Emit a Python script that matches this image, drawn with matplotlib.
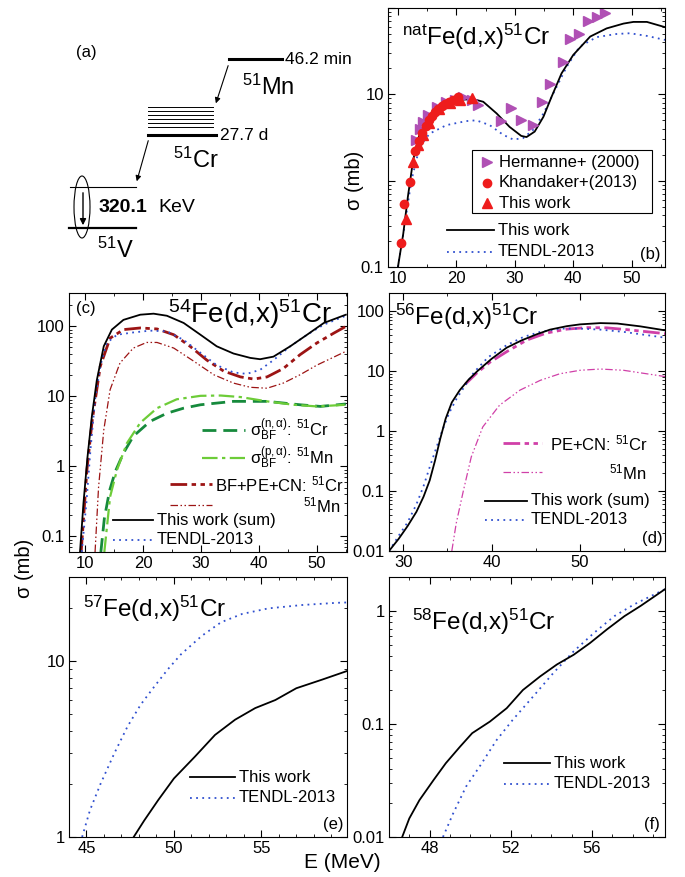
import matplotlib
matplotlib.use("Agg")
import matplotlib.pyplot as plt
import matplotlib as mpl
from matplotlib.lines import Line2D
from matplotlib.patches import Ellipse, Rectangle, FancyArrowPatch
from matplotlib.ticker import FixedLocator, LogLocator, MultipleLocator, FuncFormatter, NullFormatter

mpl.rcParams.update({
    "font.family": ["Liberation Sans", "DejaVu Sans"],
    "mathtext.fontset": "custom",
    "mathtext.rm": "Liberation Sans",
    "mathtext.it": "Liberation Sans:italic",
    "mathtext.bf": "Liberation Sans:bold",
    "font.size": 12,
    "xtick.direction": "in", "ytick.direction": "in",
    "xtick.top": True, "ytick.right": True,
    "axes.linewidth": 0.8,
})

# ---------------- data ----------------
# (b) natFe(d,x)51Cr
E_b_calc = [10.0, 10.9, 11.7, 12.6, 13.7, 15.4, 17.1, 20.0, 22.9, 24.6, 26.9, 29.1, 31.1, 32.0,
            33.4, 34.9, 36.3, 38.0, 40.0, 42.9, 45.7, 48.6, 50.3, 52.6, 55.7]
S_b_calc = [0.10, 0.24, 0.65, 1.73, 3.5, 5.75, 7.2, 8.6, 8.8, 8.2, 6.0, 4.2, 3.3, 3.2,
            3.7, 5.5, 9.4, 17.5, 28.6, 46.7, 58, 66, 69, 69, 60]
E_b_tendl = [10.0, 11.1, 12.3, 13.7, 15.4, 18.3, 21.7, 23.4, 25.7, 28.0, 29.7, 31.4, 33.1,
             34.9, 36.6, 38.9, 41.1, 44.0, 47.4, 49.7, 52.6, 55.7]
S_b_tendl = [0.10, 0.29, 1.0, 2.45, 3.5, 4.4, 4.9, 5.0, 4.4, 3.4, 3.0, 3.1, 3.85,
             6.0, 10.3, 21, 35.7, 46, 50, 51, 47.5, 42.7]
E_herm = [13.1, 13.7, 14.3, 15.1, 16.6, 18.3, 19.7, 21.1, 22.6, 23.7, 27.7, 29.4, 31.1, 33.1,
          34.7, 36.0, 38.2, 39.5, 41.0, 42.6, 44.0, 45.4]
S_herm = [2.95, 4.0, 4.8, 5.75, 7.2, 8.2, 8.6, 9.4, 8.6, 7.5, 4.9, 6.9, 5.1, 4.4,
          8.2, 13.1, 24, 43.5, 50, 70, 79.5, 87]
E_khan = [10.5, 11.1, 12.0, 13.0, 13.6, 14.2, 14.8, 15.3, 15.8, 16.3, 16.9, 17.5, 18.1, 18.8, 19.5, 20.2]
S_khan = [0.19, 0.54, 0.97, 2.2, 2.9, 3.6, 4.3, 5.0, 5.6, 6.2, 6.8, 7.3, 7.8, 8.2, 8.7, 9.2]
E_meas = [11.4, 12.6, 13.4, 14.3, 15.4, 17.1, 18.9, 20.6, 22.6]
S_meas = [0.36, 1.66, 2.6, 3.4, 4.7, 6.8, 8.0, 8.6, 9.1]

# (c) 54Fe(d,x)51Cr
E_c_sum = [9.1, 9.7, 10.4, 11.15, 12.0, 13.2, 14.6, 16.6, 19.5, 21.8, 24.1, 27.0, 29.9, 32.7,
           35.6, 38.5, 40.2, 42.5, 45.4, 48.3, 51.2, 55.0]
S_c_sum = [0.06, 0.3, 1.38, 5.2, 17, 52, 90, 124, 147, 152, 142, 112, 76, 52,
           41, 35.5, 34, 37, 52, 76, 112, 147]
E_c_tendl = [9.4, 10.2, 10.9, 11.7, 12.6, 13.7, 15.5, 18.3, 21.2, 24.1, 27.0, 29.9, 32.7, 35.6,
             37.9, 40.2, 42.5, 45.4, 48.3, 51.2, 55.0]
S_c_tendl = [0.06, 0.3, 1.7, 9, 27, 58, 76, 82, 87, 85, 64, 42, 28, 22,
             21, 24, 33, 52, 76, 106, 142]
E_c_bf = [9.3, 10.3, 11.2, 12.6, 14.3, 16.6, 19.5, 22.4, 25.3, 28.1, 31.0, 33.9, 36.8, 39.1,
          41.4, 44.2, 47.1, 50.0, 52.9, 55.0]
S_c_bf = [0.06, 0.9, 4.5, 27, 68, 90, 95, 92, 76, 52, 33, 23, 19, 17.7,
          19, 25, 39.5, 58, 80, 100]
E_c_mn = [11.7, 12.3, 13.2, 14.3, 16.0, 18.3, 20.6, 22.4, 25.3, 28.7, 32.2, 35.6, 38.5, 41.4,
          44.2, 47.1, 50.0, 55.0]
S_c_mn = [0.06, 0.5, 3.3, 12.5, 30, 49, 59, 59, 49, 32, 20.4, 15.5, 13.5, 13.1,
          15.5, 20.4, 28, 44]
E_c_na = [12.7, 13.3, 14.2, 15.2, 16.6, 18.3, 21.2, 24.1, 27.0, 29.9, 35.6, 41.4, 47.1, 50.6, 55.0]
S_c_na = [0.06, 0.18, 0.45, 0.85, 1.55, 2.7, 4.4, 5.75, 6.8, 7.6, 8.5, 8.5, 7.6, 7.2, 7.8]
E_c_pa = [13.3, 14.3, 15.5, 17.2, 19.5, 22.4, 25.8, 29.9, 33.4, 36.8, 41.4, 46.0, 50.0, 55.0]
S_c_pa = [0.06, 0.37, 0.9, 2.15, 4.2, 6.8, 9.1, 10.2, 10.3, 9.8, 8.5, 7.6, 7.2, 7.6]

# (d) 56Fe(d,x)51Cr
E_d_sum = [28.4, 29.5, 30.5, 31.5, 32.3, 33.0, 33.6, 34.2, 34.8, 35.5, 36.4, 37.4, 38.4, 40.0,
           41.7, 43.4, 45.1, 46.6, 48.5, 50.0, 52.3, 54.2, 56.8, 59.6]
S_d_sum = [0.01, 0.016, 0.026, 0.045, 0.08, 0.15, 0.32, 0.75, 1.6, 3.0, 4.8, 7.2, 10, 16,
           24.5, 32.5, 41, 49, 56, 60, 63, 62, 55.6, 47.7]
E_d_tendl = [28.4, 29.5, 30.5, 31.5, 32.3, 33.0, 33.7, 34.4, 35.2, 36.1, 37.1, 38.0, 39.6, 41.7,
             43.6, 45.5, 47.7, 50.0, 52.3, 54.9, 59.6]
S_d_tendl = [0.01, 0.018, 0.03, 0.06, 0.12, 0.25, 0.5, 1.0, 2.0, 3.6, 6.0, 9.5, 17, 27,
             37, 45, 51, 51, 49, 45, 36]
E_d_pe = [37.0, 38.4, 39.8, 41.7, 44.0, 46.2, 48.5, 50.75, 53.0, 55.3, 59.6]
S_d_pe = [6.0, 9.5, 14, 21, 33, 43, 50, 53, 52.5, 49, 42]
E_d_mn = [35.5, 36.0, 36.8, 37.7, 39.0, 40.9, 43.2, 45.5, 47.7, 50.0, 52.3, 54.9, 59.6]
S_d_mn = [0.01, 0.029, 0.10, 0.37, 1.17, 2.7, 4.8, 7.0, 9.0, 10.3, 10.8, 10.3, 8.1]

# (e) 57Fe(d,x)51Cr
E_e_sum = [47.7, 48.3, 49.1, 50.0, 51.2, 52.35, 53.5, 54.65, 55.8, 57.0, 58.5, 59.9]
S_e_sum = [1.0, 1.24, 1.62, 2.15, 2.86, 3.8, 4.64, 5.4, 6.0, 7.0, 7.85, 8.77]
E_e_tendl = [44.75, 45.2, 45.8, 46.6, 47.35, 48.1, 48.9, 49.65, 50.4, 51.6, 52.7, 53.9, 55.4,
             57.35, 59.3, 59.9]
S_e_tendl = [1.0, 1.42, 2.0, 3.0, 4.25, 5.65, 7.2, 8.96, 10.9, 13.9, 16.6, 18.5, 19.9,
             20.8, 21.4, 21.5]

# (f) 58Fe(d,x)51Cr
E_f_sum = [46.65, 47.0, 47.5, 48.2, 48.8, 49.5, 50.1, 50.97, 51.8, 52.6, 53.45, 54.27, 55.1,
           55.9, 56.75, 57.6, 58.4, 59.6]
S_f_sum = [0.01, 0.0146, 0.0212, 0.032, 0.045, 0.063, 0.083, 0.105, 0.138, 0.2, 0.264, 0.336,
           0.41, 0.52, 0.69, 0.90, 1.11, 1.56]
E_f_tendl = [48.66, 49.15, 49.8, 50.5, 51.3, 52.1, 53.1, 54.1, 55.1, 56.1, 57.1, 58.1, 59.6]
S_f_tendl = [0.01, 0.016, 0.028, 0.043, 0.072, 0.109, 0.175, 0.283, 0.44, 0.64, 0.90, 1.15, 1.56]

# ---------------- styles ----------------
BLUE = "#2f4fcf"
DRED = "#9c1414"
DGREEN = "#168a3c"
LGREEN = "#6dcc38"
MAG = "#d040a8"
HERM = "#b050b4"
RED = "#ee1c1c"
SOLID = dict(color="black", lw=1.3, ls="-")
TEND = dict(color=BLUE, lw=1.3, ls=(0, (1, 2.4)))
DDOT_THICK = (0, (6, 1.6, 1.6, 1.6, 1.6, 1.6))
DDOT_THIN = (0, (6, 2, 1.2, 2, 1.2, 2))

W, H = 685, 877
fig = plt.figure(figsize=(W / 100, H / 100), dpi=100)


def fx(x):
    return x / W


def fy(y):
    return 1 - y / H


def box(l, t, r, b):
    return [fx(l), fy(b), (r - l) / W, (b - t) / H]


def ftext(x, y, s, **kw):
    fig.text(fx(x), fy(y), s, **kw)


def fline(x0, x1, y0, y1=None, **kw):
    y1 = y0 if y1 is None else y1
    fig.add_artist(Line2D([fx(x0), fx(x1)], [fy(y0), fy(y1)], transform=fig.transFigure, **kw))


def key(x0, x1, y, label, tx=None, size=12, **style):
    fline(x0, x1, y, **style)
    if label:
        ftext(x1 + 4 if tx is None else tx, y, label, ha="left", va="center", fontsize=size)


def logfmt(hide=()):
    return FuncFormatter(lambda v, p: "" if any(abs(v - h) < 1e-9 * max(h, 1e-9) for h in hide)
                         else f"{v:g}")


def setup(ax, xlim, ylim, xmaj, xmin, ymaj, hide=()):
    ax.set_xlim(*xlim)
    ax.set_ylim(*ylim)
    ax.set_yscale("log")
    ax.xaxis.set_major_locator(MultipleLocator(xmaj))
    ax.xaxis.set_minor_locator(MultipleLocator(xmin))
    ax.yaxis.set_major_locator(FixedLocator(ymaj))
    ax.yaxis.set_minor_locator(LogLocator(subs=range(2, 10)))
    ax.yaxis.set_major_formatter(logfmt(hide))
    ax.yaxis.set_minor_formatter(NullFormatter())
    ax.tick_params(which="major", length=5, width=0.8, labelsize=12, pad=3)
    ax.tick_params(which="minor", length=2.5, width=0.6)


# ---------------- (a) decay scheme ----------------
ftext(86, 52, "(a)", ha="center", va="center", fontsize=12)
fline(229, 282, 59, color="black", lw=2.2)
ftext(285, 59, "46.2 min", ha="left", va="center", fontsize=12.5)
ftext(242, 87, r"$^{51}$Mn", ha="left", va="center", fontsize=17)
fig.add_artist(FancyArrowPatch((fx(229), fy(63)), (fx(215), fy(106)), transform=fig.transFigure,
                               arrowstyle="-|>", mutation_scale=8, lw=0.8, color="black"))
for yy in [107, 111, 115, 119, 123, 127]:
    fline(148, 213, yy, color="black", lw=0.7)
fline(148, 216, 135, color="black", lw=2.2)
ftext(220, 135, "27.7 d", ha="left", va="center", fontsize=12.5)
ftext(173, 160, r"$^{51}$Cr", ha="left", va="center", fontsize=17)
fig.add_artist(FancyArrowPatch((fx(149), fy(138)), (fx(136), fy(184)), transform=fig.transFigure,
                               arrowstyle="-|>", mutation_scale=8, lw=0.8, color="black"))
fline(70, 136, 187, color="black", lw=0.8)
fline(69, 136, 228, color="black", lw=1.6)
fig.add_artist(Ellipse((fx(82), fy(207)), 16 / W, 62 / H, transform=fig.transFigure,
                       fill=False, lw=0.8, color="black"))
fig.add_artist(FancyArrowPatch((fx(83), fy(190)), (fx(83), fy(228)), transform=fig.transFigure,
                               arrowstyle="-|>", mutation_scale=9, lw=1.0, color="black"))
ftext(99, 208, "320.1", ha="left", va="center", fontsize=14, fontweight="bold")
ftext(158, 208, "KeV", ha="left", va="center", fontsize=14)
ftext(97, 250, r"$^{51}$V", ha="left", va="center", fontsize=17)

# ---------------- (b) ----------------
axb = fig.add_axes(box(388, 8, 665, 267))
setup(axb, (8.3, 55.7), (0.1, 100), 10, 5, [0.1, 1, 10, 100], hide=(1, 100))
axb.plot(E_b_tendl, S_b_tendl, **TEND)
axb.plot(E_b_calc, S_b_calc, **SOLID)
axb.plot(E_herm, S_herm, ">", color=HERM, ms=7, ls="none")
axb.plot(E_khan, S_khan, "o", color=RED, ms=6, ls="none")
axb.plot(E_meas, S_meas, "^", color=RED, ms=7, ls="none")
ftext(402, 45, r"$^{\mathrm{nat}}$Fe(d,x)$^{51}$Cr", ha="left", va="baseline", fontsize=17.5)
fig.add_artist(Rectangle((fx(472), fy(213)), 180 / W, 63 / H, transform=fig.transFigure,
                         fill=False, lw=0.8, color="black"))
for yy, mk, col, lab in [(162, ">", HERM, "Hermanne+ (2000)"), (183, "o", RED, "Khandaker+(2013)"),
                         (203, "^", RED, "This work")]:
    fig.add_artist(Line2D([fx(487)], [fy(yy)], marker=mk, color=col, ms=7 if mk != "o" else 6,
                          ls="none", transform=fig.transFigure))
    ftext(499, yy, lab, ha="left", va="center", fontsize=12)
key(447, 494, 230, "This work", **SOLID)
key(447, 494, 252, "TENDL-2013", **TEND)
ftext(650, 255, "(b)", ha="center", va="center", fontsize=12)
ftext(355, 180, "σ (mb)", ha="center", va="center", rotation=90, fontsize=14.5)

# ---------------- (c) ----------------
axc = fig.add_axes(box(69, 293, 347, 552))
setup(axc, (7.2, 55.2), (0.06, 300), 10, 5, [0.1, 1, 10, 100])
axc.plot(E_c_na, S_c_na, color=DGREEN, lw=2.0, ls=(0, (5, 2.5)))
axc.plot(E_c_pa, S_c_pa, color=LGREEN, lw=1.6, ls=(0, (7, 2, 1.5, 2)))
axc.plot(E_c_mn, S_c_mn, color=DRED, lw=0.9, ls=DDOT_THIN)
axc.plot(E_c_bf, S_c_bf, color=DRED, lw=2.0, ls=DDOT_THICK)
axc.plot(E_c_tendl, S_c_tendl, **TEND)
axc.plot(E_c_sum, S_c_sum, **SOLID)
ftext(168, 323, r"$^{54}$Fe(d,x)$^{51}$Cr", ha="left", va="baseline", fontsize=20)
ftext(86, 308, "(c)", ha="center", va="center", fontsize=12)
key(202, 245, 430, r"$\mathrm{\sigma}_{\mathrm{BF}}^{\mathrm{(n,\alpha)}}$: $^{51}$Cr", tx=250,
    color=DGREEN, lw=2.0, ls=(0, (5, 2.5)))
key(202, 245, 458, r"$\mathrm{\sigma}_{\mathrm{BF}}^{\mathrm{(p,\alpha)}}$: $^{51}$Mn", tx=250,
    color=LGREEN, lw=1.6, ls=(0, (7, 2, 1.5, 2)))
key(170, 212, 484, r"BF+PE+CN: $^{51}$Cr", tx=215, color=DRED, lw=2.0, ls=DDOT_THICK)
key(170, 212, 505, None, color=DRED, lw=0.9, ls=DDOT_THIN)
ftext(341, 505, r"$^{51}$Mn", ha="right", va="center", fontsize=12)
key(113, 153, 520, "This work (sum)", **SOLID)
key(113, 153, 540, "TENDL-2013", **TEND)

# ---------------- (d) ----------------
axd = fig.add_axes(box(389, 293, 665, 551))
setup(axd, (28.4, 59.6), (0.01, 200), 10, 5, [0.01, 0.1, 1, 10, 100])
axd.plot(E_d_mn, S_d_mn, color=MAG, lw=0.9, ls=DDOT_THIN)
axd.plot(E_d_pe, S_d_pe, color=MAG, lw=2.0, ls=DDOT_THICK)
axd.plot(E_d_tendl, S_d_tendl, **TEND)
axd.plot(E_d_sum, S_d_sum, **SOLID)
ftext(395, 325, r"$^{56}$Fe(d,x)$^{51}$Cr", ha="left", va="baseline", fontsize=17.5)
key(503, 542, 443, r"PE+CN: $^{51}$Cr", tx=550, color=MAG, lw=2.0, ls=DDOT_THICK)
key(503, 542, 472, None, color=MAG, lw=0.9, ls=DDOT_THIN)
ftext(647, 472, r"$^{51}$Mn", ha="right", va="center", fontsize=12)
key(485, 527, 501, "This work (sum)", **SOLID)
key(485, 527, 520, "TENDL-2013", **TEND)
ftext(652, 538, "(d)", ha="center", va="center", fontsize=12)

# ---------------- (e) ----------------
axe = fig.add_axes(box(69, 577, 347, 837))
setup(axe, (44, 59.9), (1, 30), 5, 1, [1, 10])
axe.plot(E_e_tendl, S_e_tendl, **TEND)
axe.plot(E_e_sum, S_e_sum, **SOLID)
ftext(83, 617, r"$^{57}$Fe(d,x)$^{51}$Cr", ha="left", va="baseline", fontsize=17.5)
key(190, 235, 777, "This work", **SOLID)
key(190, 235, 798, "TENDL-2013", **TEND)
ftext(333, 825, "(e)", ha="center", va="center", fontsize=12)
ftext(25, 568, "σ (mb)", ha="center", va="center", rotation=90, fontsize=14.5)

# ---------------- (f) ----------------
axf = fig.add_axes(box(389, 577, 665, 837))
setup(axf, (46, 59.6), (0.01, 2), 4, 1, [0.01, 0.1, 1])
axf.plot(E_f_tendl, S_f_tendl, **TEND)
axf.plot(E_f_sum, S_f_sum, **SOLID)
ftext(412, 630, r"$^{58}$Fe(d,x)$^{51}$Cr", ha="left", va="baseline", fontsize=17.5)
key(504, 550, 763, "This work", **SOLID)
key(504, 550, 784, "TENDL-2013", **TEND)
ftext(652, 825, "(f)", ha="center", va="center", fontsize=12)

ftext(342, 862, "E (MeV)", ha="center", va="center", fontsize=15)

fig.savefig("out.png", dpi=100)
